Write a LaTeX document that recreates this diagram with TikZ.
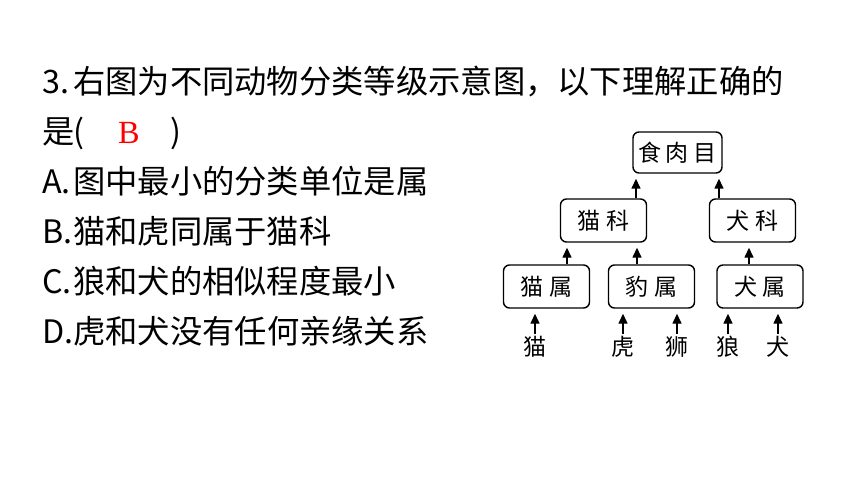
\documentclass[tikz,border=0pt]{standalone}
\usepackage{fontspec}
\setmainfont{Noto Sans CJK SC}
\newfontfamily\serifB{Liberation Serif}
\usetikzlibrary{arrows.meta}
\begin{document}
\begin{tikzpicture}[x=1pt,y=-1pt,
  line/.style={anchor=base west,inner sep=0pt,font=\fontsize{32.3}{32}\selectfont},
  box/.style={draw,rounded corners=6pt,line width=1.4pt,minimum width=86pt,minimum height=43pt,inner sep=0pt,font=\fontsize{23}{23}\selectfont},
  leaf/.style={inner sep=0pt,font=\fontsize{23}{23}\selectfont},
  arr/.style={-{Triangle[length=10pt,width=9pt]},line width=1.4pt,shorten >=5pt}]
\useasboundingbox (0,0) rectangle (860,484);
\fill[white] (0,0) rectangle (860,484);
% question text
\node[line] (t1) at (42,93.5) {\makebox[31pt][l]{3.}右图为不同动物分类等级示意图，以下理解正确的};
\node[line] (t2) at (42,143.5) {\makebox[31pt][l]{是}\makebox[45pt][l]{(}\makebox[52pt][l]{\color{red}\serifB B})};
\node[line] (oa) at (42,193.5) {\makebox[31pt][l]{A.}图中最小的分类单位是属};
\node[line] (ob) at (42,243.5) {\makebox[31pt][l]{B.}猫和虎同属于猫科};
\node[line] (oc) at (42,293.5) {\makebox[31pt][l]{C.}狼和犬的相似程度最小};
\node[line] (od) at (42,343.5) {\makebox[31pt][l]{D.}虎和犬没有任何亲缘关系};
% boxes
\node[box,minimum width=89pt,minimum height=41pt] (shirou) at (677.5,152.5) {食\hspace{5pt}肉\hspace{5pt}目};
\node[box] (maoke) at (603.5,220.5) {猫\hspace{6pt}科};
\node[box] (quanke) at (752.5,220.5) {犬\hspace{6pt}科};
\node[box] (maoshu) at (546.5,286.5) {猫\hspace{6pt}属};
\node[box] (baoshu) at (651.5,286.5) {豹\hspace{6pt}属};
\node[box] (quanshu) at (760,286.5) {犬\hspace{6pt}属};
% leaves
\node[leaf] (mao) at (535,347) {猫};
\node[leaf] (hu) at (623,347) {虎};
\node[leaf] (shi) at (677,347) {狮};
\node[leaf] (lang) at (728,347) {狼};
\node[leaf] (quan) at (778,347) {犬};
% arrows
\draw[arr] (636,0 |- maoke.north) -- (636,0 |- shirou.south);
\draw[arr] (719,0 |- quanke.north) -- (719,0 |- shirou.south);
\draw[arr] (567,0 |- maoshu.north) -- (567,0 |- maoke.south);
\draw[arr] (637,0 |- baoshu.north) -- (637,0 |- maoke.south);
\draw[arr] (749,0 |- quanshu.north) -- (749,0 |- quanke.south);
\draw[arr,shorten <=2pt] (mao.north) -- (mao.north |- maoshu.south);
\draw[arr,shorten <=2pt] (hu.north) -- (hu.north |- baoshu.south);
\draw[arr,shorten <=2pt] (shi.north) -- (shi.north |- baoshu.south);
\draw[arr,shorten <=2pt] (lang.north) -- (lang.north |- quanshu.south);
\draw[arr,shorten <=2pt] (quan.north) -- (quan.north |- quanshu.south);
\end{tikzpicture}
\end{document}
